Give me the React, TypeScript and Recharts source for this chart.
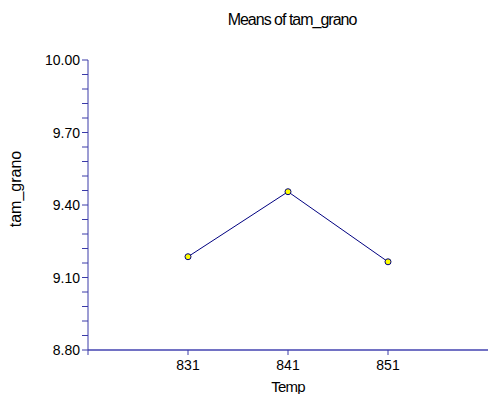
import { Line, LineChart, XAxis, YAxis } from 'recharts';

const temps = [831, 841, 851];
const meanTamGrano = [9.186, 9.455, 9.165];
const xTicks = [821, 831, 841, 851];
const yMajorTicks = [8.8, 9.1, 9.4, 9.7, 10.0];
const yTicks = [
  8.8, 8.86, 8.92, 8.98, 9.04, 9.1, 9.16, 9.22, 9.28, 9.34, 9.4, 9.46, 9.52, 9.58, 9.64, 9.7, 9.76, 9.82, 9.88, 9.94, 10.0,
];

const data = temps.map((t, i) => ({ temp: t, mean: meanTamGrano[i] }));

const font = '"Liberation Sans", Arial, sans-serif';

function YTick({ x, y, payload }: any) {
  const isMajor = yMajorTicks.some((v) => Math.abs(v - payload.value) < 1e-6);
  if (!isMajor) return null;
  return (
    <text x={x} y={y} dy={5} textAnchor="end" fontSize={14} fontFamily={font} fill="#000">
      {payload.value.toFixed(2)}
    </text>
  );
}

function XTick({ x, y, payload }: any) {
  if (payload.value === 821) return null;
  return (
    <text x={x} y={y} dy={13} textAnchor="middle" fontSize={14} fontFamily={font} fill="#000">
      {payload.value}
    </text>
  );
}

export default function App() {
  return (
    <div style={{ position: 'absolute', left: 0, top: 0, width: 488, height: 394, background: '#fff', fontFamily: font }}>
      <div style={{ position: 'absolute', left: 0, width: 584, top: 11, textAlign: 'center', fontSize: 16, letterSpacing: -1 }}>
        Means of tam_grano
      </div>
      <div
        style={{
          position: 'absolute',
          left: 16,
          top: 189,
          fontSize: 16,
          transform: 'translate(-50%, -50%) rotate(-90deg)',
          whiteSpace: 'nowrap',
        }}
      >
        tam_grano
      </div>
      <LineChart width={488} height={394} data={data} margin={{ top: 60, right: 0, left: 0, bottom: 0 }}>
        <XAxis
          dataKey="temp"
          type="number"
          domain={[821, 861]}
          ticks={xTicks}
          height={44}
          axisLine={{ stroke: '#7272c4', strokeWidth: 2 }}
          tickLine={{ stroke: '#3a3aa8' }}
          tickSize={5}
          tick={<XTick />}
          label={{ value: 'Temp', position: 'insideBottom', offset: 2, fontSize: 15, letterSpacing: -0.8, fontFamily: font, fill: '#000' }}
        />
        <YAxis
          type="number"
          domain={[8.8, 10]}
          ticks={yTicks}
          interval={0}
          width={88}
          axisLine={{ stroke: '#3a3aa8' }}
          tickLine={{ stroke: '#3a3aa8' }}
          tickSize={6}
          tick={<YTick />}
        />
        <Line
          dataKey="mean"
          stroke="#000080"
          strokeWidth={1}
          dot={{ r: 3, fill: '#ffff00', stroke: '#000080', strokeWidth: 1 }}
          isAnimationActive={false}
        />
      </LineChart>
    </div>
  );
}
